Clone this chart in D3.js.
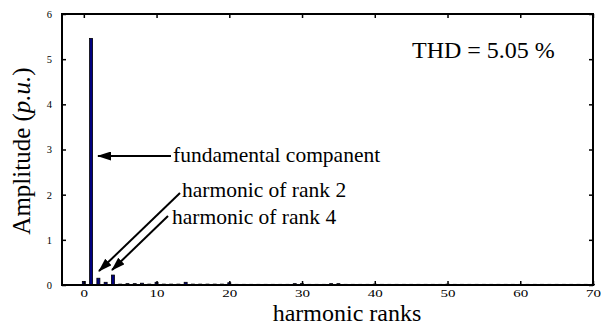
<!DOCTYPE html>
<html>
<head>
<meta charset="utf-8">
<script src="https://cdn.jsdelivr.net/npm/d3@7"></script>
<style>
  html, body { margin: 0; padding: 0; background: #fff; }
  svg { display: block; font-family: "Liberation Serif", "Times New Roman", serif; }
</style>
</head>
<body>
<svg id="chart" width="601" height="326"></svg>
<script>
// Harmonic spectrum of the output current (amplitude in p.u.)
const ranks = d3.range(0, 71);
const amplitudes = [
  0.08, 5.46, 0.15, 0.06, 0.22, 0.02, 0.03, 0.03, 0.04, 0.02,
  0.06, 0.02, 0.02, 0.02, 0.06, 0.02, 0.02, 0.02, 0.02, 0.02,
  0.05, 0.015, 0.015, 0.015, 0.015, 0.015, 0.015, 0.015, 0.015, 0.03,
  0.03, 0.015, 0.015, 0.015, 0.03, 0.03, 0.015, 0.015, 0.015, 0.015,
  0.02, 0.015, 0.015, 0.015, 0.015, 0.015, 0.015, 0.015, 0.015, 0.015,
  0.02, 0.015, 0.015, 0.015, 0.015, 0.015, 0.015, 0.015, 0.015, 0.015,
  0.015, 0.015, 0.015, 0.015, 0.015, 0.015, 0.015, 0.015, 0.015, 0.015,
  0.015
];
const xTicks = [0, 10, 20, 30, 40, 50, 60, 70];
const yTicks = [0, 1, 2, 3, 4, 5, 6];
const thdText = "THD = 5.05 %";
const annotations = [
  { text: "fundamental companent", tx: 173, ty: 162, fx: 171, fy: 156, hx: 98, hy: 156 },
  { text: "harmonic of rank 2", tx: 182, ty: 197, fx: 180, fy: 193, hx: 99, hy: 271 },
  { text: "harmonic of rank 4", tx: 172, ty: 224, fx: 168, fy: 216, hx: 112, hy: 270 }
];

const margin = { left: 62, top: 14, right: 8, bottom: 41 };
const W = 601, H = 326;
const svg = d3.select("#chart");

const x = d3.scaleLinear().domain([-3, 70]).range([margin.left, W - margin.right]);
const y = d3.scaleLinear().domain([0, 6]).range([H - margin.bottom, margin.top]);

svg.append("defs").append("marker")
  .attr("id", "arrow")
  .attr("viewBox", "0 0 14 9")
  .attr("refX", 13).attr("refY", 4.5)
  .attr("markerWidth", 14).attr("markerHeight", 9)
  .attr("markerUnits", "userSpaceOnUse")
  .attr("orient", "auto")
  .append("path").attr("d", "M0,0 L14,4.5 L0,9 z").attr("fill", "#000");

// bars
const bw = 3;
svg.append("g").selectAll("rect")
  .data(ranks)
  .join("rect")
  .attr("x", d => x(d) - bw / 2)
  .attr("y", (d, i) => y(amplitudes[i]))
  .attr("width", bw)
  .attr("height", (d, i) => y(0) - y(amplitudes[i]))
  .attr("fill", "#000080")
  .attr("stroke", "#000")
  .attr("stroke-width", 0.8);

// axes with inward ticks on all four sides
const axBottom = svg.append("g").attr("transform", `translate(0,${y(0)})`)
  .call(d3.axisBottom(x).tickValues(xTicks).tickSize(-4).tickPadding(5).tickFormat(d3.format("d")));
const axTop = svg.append("g").attr("transform", `translate(0,${y(6)})`)
  .call(d3.axisTop(x).tickValues(xTicks).tickSize(-4).tickFormat(""));
const axLeft = svg.append("g").attr("transform", `translate(${x(-3)},0)`)
  .call(d3.axisLeft(y).tickValues(yTicks).tickSize(-4).tickPadding(10).tickFormat(d3.format("d")));
const axRight = svg.append("g").attr("transform", `translate(${x(70)},0)`)
  .call(d3.axisRight(y).tickValues(yTicks).tickSize(-4).tickFormat(""));
[axBottom, axTop, axLeft, axRight].forEach(g => {
  g.select(".domain").remove();
  g.selectAll(".tick line").attr("stroke", "#000").attr("stroke-width", 1.5);
  g.selectAll("text").attr("font-family", "Liberation Serif").attr("font-size", "10.5px").attr("fill", "#000");
});
// x tick labels are set in a wide face
axBottom.selectAll(".tick text")
  .attr("font-size", "10px")
  .attr("transform", "scale(1.5,1)");

// frame
svg.append("rect")
  .attr("x", x(-3)).attr("y", y(6))
  .attr("width", x(70) - x(-3)).attr("height", y(0) - y(6))
  .attr("fill", "none").attr("stroke", "#000").attr("stroke-width", 2);

// axis titles
svg.append("text")
  .attr("x", 347).attr("y", 321)
  .attr("text-anchor", "middle").attr("font-size", "24px")
  .text("harmonic ranks");

const yl = svg.append("text")
  .attr("transform", `translate(30,151) rotate(-90)`)
  .attr("text-anchor", "middle").attr("font-size", "25px");
yl.append("tspan").text("Amplitude (");
yl.append("tspan").attr("font-style", "italic").text("p.u.");
yl.append("tspan").text(")");

// THD label
svg.append("text")
  .attr("x", 412).attr("y", 58)
  .attr("font-size", "24px")
  .text(thdText);

// annotations
const ann = svg.append("g");
ann.selectAll("line")
  .data(annotations)
  .join("line")
  .attr("x1", d => d.fx).attr("y1", d => d.fy)
  .attr("x2", d => d.hx).attr("y2", d => d.hy)
  .attr("stroke", "#000").attr("stroke-width", 2)
  .attr("marker-end", "url(#arrow)");
ann.selectAll("text")
  .data(annotations)
  .join("text")
  .attr("x", d => d.tx).attr("y", d => d.ty)
  .attr("font-size", "21.5px")
  .text(d => d.text);
</script>
</body>
</html>
